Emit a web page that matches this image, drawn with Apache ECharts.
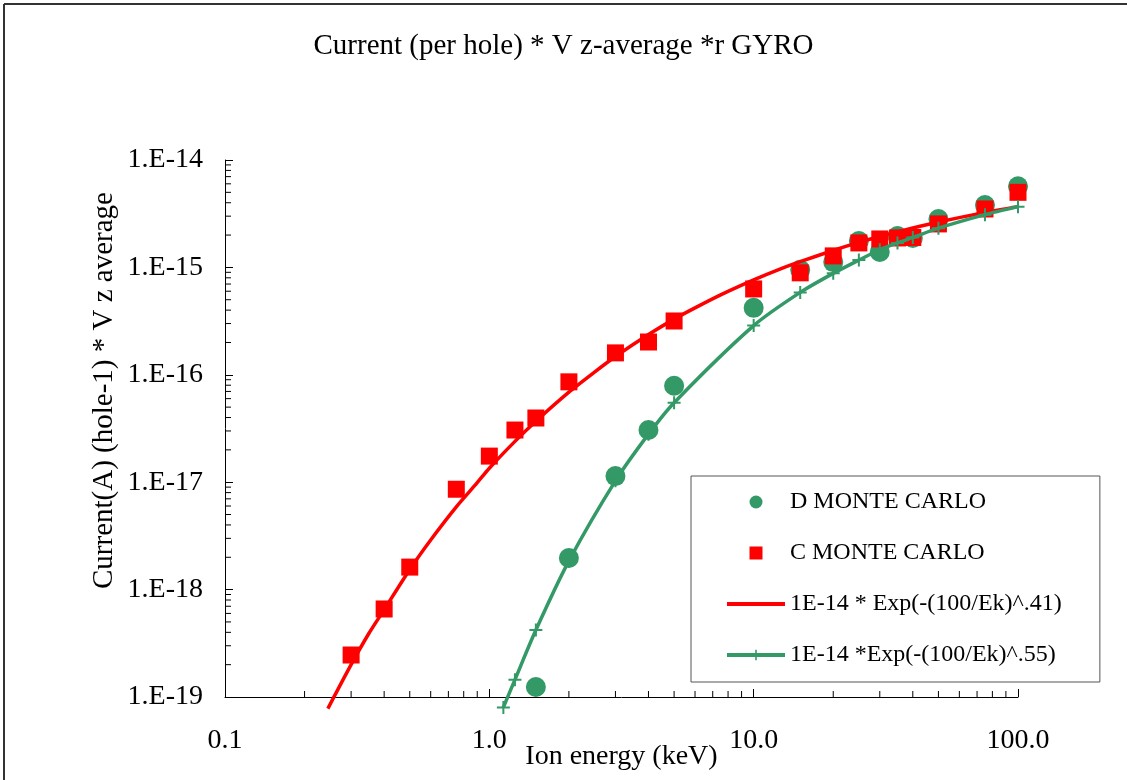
<!DOCTYPE html>
<html>
<head>
<meta charset="utf-8">
<script src="https://cdn.jsdelivr.net/npm/echarts@6/dist/echarts.min.js"></script>
<style>
html,body{margin:0;padding:0;background:#fff;}
#chart{width:1127px;height:780px;}
</style>
</head>
<body>
<div id="chart"></div>
<script>
// ---- data ----
const titleText = 'Current (per hole) * V z-average *r GYRO';
const xName = 'Ion energy (keV)';
const yName = 'Current(A) (hole-1) * V z average';

const xTickLabels = ['0.1', '1.0', '10.0', '100.0'];
const yTickLabels = ['1.E-19', '1.E-18', '1.E-17', '1.E-16', '1.E-15', '1.E-14'];

// D MONTE CARLO (green circles)
const dEnergy = [1.5, 2, 3, 4, 5, 10, 15, 20, 25, 30, 35, 40, 50, 75, 100];
const dValue  = [1.24e-19, 1.97e-18, 1.14e-17, 3.06e-17, 7.9e-17, 4.2e-16, 9.5e-16, 1.12e-15, 1.76e-15, 1.39e-15, 1.96e-15, 1.88e-15, 2.82e-15, 3.81e-15, 5.7e-15];

// C MONTE CARLO (red squares)
const cEnergy = [0.3, 0.4, 0.5, 0.75, 1, 1.25, 1.5, 2, 3, 4, 5, 10, 15, 20, 25, 30, 35, 40, 50, 75, 100];
const cValue  = [2.46e-19, 6.6e-19, 1.62e-18, 8.6e-18, 1.75e-17, 3.06e-17, 3.96e-17, 8.6e-17, 1.6e-16, 2.02e-16, 3.17e-16, 6.3e-16, 8.9e-16, 1.28e-15, 1.69e-15, 1.84e-15, 1.88e-15, 1.9e-15, 2.54e-15, 3.5e-15, 5.0e-15];

// red fitted curve
const redFitEnergy = [0.245, 0.3, 0.35, 0.4, 0.5, 0.6, 0.75, 0.9, 1, 1.25, 1.5, 2, 2.5, 3, 4, 5, 6, 7.5, 10, 12.5, 15, 20, 25, 30, 40, 50, 75, 100];
const redFitValue  = [7.8e-20, 2.0e-19, 3.9e-19, 6.5e-19, 1.54e-18, 2.9e-18, 5.9e-18, 9.9e-18, 1.35e-17, 2.4e-17, 3.7e-17, 6.9e-17, 1.06e-16, 1.48e-16, 2.37e-16, 3.3e-16, 4.2e-16, 5.55e-16, 7.65e-16, 9.6e-16, 1.13e-15, 1.44e-15, 1.71e-15, 1.94e-15, 2.33e-15, 2.65e-15, 3.25e-15, 3.68e-15];

// green fitted curve with + markers
const greenFitEnergy = [1.13, 1.25, 1.5, 2, 3, 4, 5, 10, 15, 20, 25, 30, 35, 40, 50, 75, 100];
const greenFitValue  = [8.0e-20, 1.45e-19, 4.2e-19, 1.85e-18, 1.03e-17, 2.8e-17, 5.5e-17, 2.87e-16, 5.85e-16, 8.8e-16, 1.17e-15, 1.46e-15, 1.69e-15, 1.9e-15, 2.32e-15, 3.1e-15, 3.68e-15];

// minor tick positions (axis decoration)
const minorMult = [2, 3, 4, 5, 6, 7, 8, 9];
const xDecades = [0.1, 1, 10];
const yDecades = [1e-19, 1e-18, 1e-17, 1e-16, 1e-15];

const xMin = 0.1, xMax = 100, yMin = 1e-19, yMax = 1e-14;
const GREEN = '#339966', RED = '#ff0000';
const FONT = 'Liberation Serif';

const zip = (a, b) => a.map((v, i) => [v, b[i]]);
const xMinor = [];
xDecades.forEach(d => minorMult.forEach(m => xMinor.push([+(d * m).toPrecision(3), yMin])));
const yMinor = [];
yDecades.forEach(d => minorMult.forEach(m => yMinor.push([xMin, +(d * m).toPrecision(3)])));

const plusPath = 'path://M5.5,0H7.5V5.5H13V7.5H7.5V13H5.5V7.5H0V5.5H5.5Z';
const squarePath = 'path://M0,0H10V10H0Z';

const chart = echarts.init(document.getElementById('chart'), null, {renderer: 'canvas'});
chart.setOption({
  backgroundColor: '#fff',
  animation: false,
  title: {
    text: titleText, left: 'center', top: 27,
    textStyle: {fontFamily: FONT, fontSize: 29, fontWeight: 'normal', color: '#000'}
  },
  grid: {left: 225, right: 109, top: 160, bottom: 83, containLabel: false, outerBoundsMode: 'none'},
  xAxis: {
    type: 'log', logBase: 10, min: xMin, max: xMax,
    name: xName, nameLocation: 'middle', nameGap: 46, nameMoveOverlap: false,
    nameTextStyle: {fontFamily: FONT, fontSize: 28, color: '#000'},
    axisLine: {show: true, lineStyle: {color: '#000', width: 1}},
    axisTick: {show: true, inside: true, length: 8, lineStyle: {color: '#000'}},
    axisLabel: {
      margin: 30, fontFamily: FONT, fontSize: 28, color: '#000',
      formatter: v => xTickLabels[Math.round(Math.log10(v)) + 1] || ''
    },
    splitLine: {show: false}
  },
  yAxis: {
    type: 'log', logBase: 10, min: yMin, max: yMax,
    name: yName, nameLocation: 'middle', nameGap: 106, nameRotate: 90, nameMoveOverlap: false,
    nameTextStyle: {fontFamily: FONT, fontSize: 29, color: '#000', padding: [0, 0, 0, 76]},
    axisLine: {show: true, lineStyle: {color: '#000', width: 1}},
    axisTick: {show: true, inside: true, length: 8, lineStyle: {color: '#000'}},
    axisLabel: {
      margin: 22, fontFamily: FONT, fontSize: 28, color: '#000',
      formatter: v => yTickLabels[Math.round(Math.log10(v)) + 19] || ''
    },
    splitLine: {show: false}
  },
  legend: {
    orient: 'vertical', left: 691, top: 476,
    padding: [14, 38, 15, 34],
    itemWidth: 58, itemHeight: 13, itemGap: 27, itemTextGap: 7,
    backgroundColor: '#fff', borderColor: '#555', borderWidth: 1,
    lineStyle: {width: 4},
    textStyle: {fontFamily: FONT, fontSize: 24, color: '#000', lineHeight: 23},
    data: [
      {name: 'D MONTE CARLO', icon: 'circle'},
      {name: 'C MONTE CARLO', icon: squarePath},
      {name: '1E-14 * Exp(-(100/Ek)^.41)', itemStyle: {color: 'rgba(0,0,0,0)', borderColor: 'rgba(0,0,0,0)', borderWidth: 0}},
      {name: '1E-14 *Exp(-(100/Ek)^.55)'}
    ]
  },
  graphic: [
    {type: 'line', shape: {x1: 4, y1: 4, x2: 1127, y2: 4}, style: {stroke: '#333', lineWidth: 2}, silent: true},
    {type: 'line', shape: {x1: 4, y1: 4, x2: 4, y2: 780}, style: {stroke: '#333', lineWidth: 2}, silent: true}
  ],
  series: [
    {
      name: 'D MONTE CARLO', type: 'scatter', data: zip(dEnergy, dValue),
      symbol: 'circle', symbolSize: 20, itemStyle: {color: GREEN, opacity: 1}, z: 2
    },
    {
      name: 'C MONTE CARLO', type: 'scatter', data: zip(cEnergy, cValue),
      symbol: 'rect', symbolSize: 17, itemStyle: {color: RED, opacity: 1}, z: 3
    },
    {
      name: '1E-14 * Exp(-(100/Ek)^.41)', type: 'line', data: zip(redFitEnergy, redFitValue),
      showSymbol: false, symbol: 'circle', smooth: 0.25, clip: false,
      lineStyle: {color: RED, width: 3.5}, itemStyle: {color: RED}, z: 4
    },
    {
      name: '1E-14 *Exp(-(100/Ek)^.55)', type: 'line', data: zip(greenFitEnergy, greenFitValue),
      symbol: plusPath, symbolSize: 13, showSymbol: true, smooth: 0.25, clip: false,
      lineStyle: {color: GREEN, width: 3.5}, itemStyle: {color: GREEN}, z: 5
    },
    {
      type: 'custom', silent: true, data: xMinor, z: 6, clip: false,
      renderItem: (params, api) => {
        const p = api.coord([api.value(0), api.value(1)]);
        return {type: 'line', shape: {x1: p[0], y1: p[1], x2: p[0], y2: p[1] - 6}, style: {stroke: '#000', lineWidth: 1}};
      }
    },
    {
      type: 'custom', silent: true, data: yMinor, z: 6, clip: false,
      renderItem: (params, api) => {
        const p = api.coord([api.value(0), api.value(1)]);
        return {type: 'line', shape: {x1: p[0], y1: p[1], x2: p[0] + 6, y2: p[1]}, style: {stroke: '#000', lineWidth: 1}};
      }
    }
  ]
});
</script>
</body>
</html>
